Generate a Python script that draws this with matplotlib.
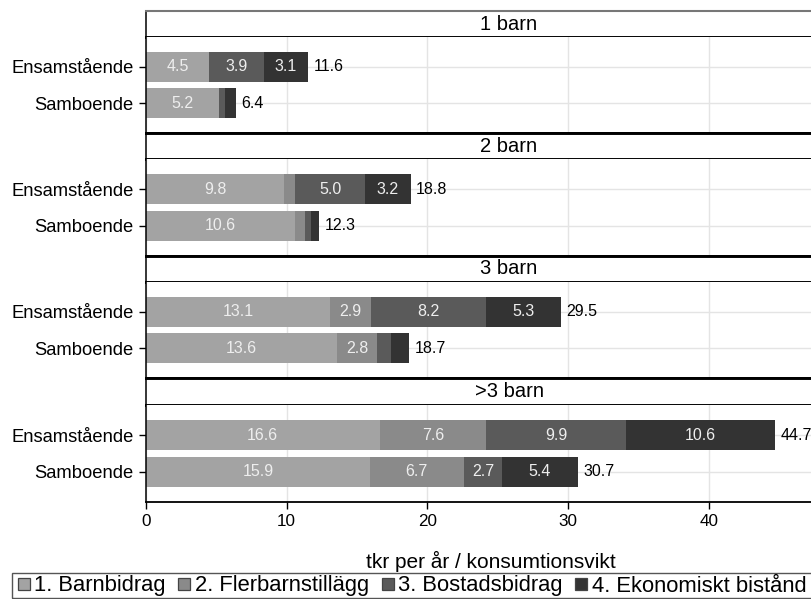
import matplotlib
matplotlib.use("Agg")
import matplotlib.pyplot as plt
from matplotlib.lines import Line2D
from matplotlib.patches import Rectangle

plt.rcParams['font.family'] = ['Liberation Sans', 'DejaVu Sans']

# data (tkr per år / konsumtionsvikt)
panels = ['1 barn', '2 barn', '3 barn', '>3 barn']
groups = ['Ensamstående', 'Samboende']
components = ['1. Barnbidrag', '2. Flerbarnstillägg', '3. Bostadsbidrag', '4. Ekonomiskt bistånd']

barnbidrag_ens = [4.5, 9.8, 13.1, 16.6]
barnbidrag_sam = [5.2, 10.6, 13.6, 15.9]
flerbarn_ens = [0.0, 0.8, 2.9, 7.6]
flerbarn_sam = [0.0, 0.7, 2.8, 6.7]
bostad_ens = [3.9, 5.0, 8.2, 9.9]
bostad_sam = [0.4, 0.4, 1.0, 2.7]
ekbist_ens = [3.1, 3.2, 5.3, 10.6]
ekbist_sam = [0.8, 0.6, 1.3, 5.4]
totals_ens = [11.6, 18.8, 29.5, 44.7]
totals_sam = [6.4, 12.3, 18.7, 30.7]

colors = ['#a3a3a3', '#8a8a8a', '#5a5a5a', '#333333']

W, H = 811, 599
fig = plt.figure(figsize=(W / 100, H / 100), dpi=100)

def box(x0, y0, x1, y1):
    # pixel box (top-left origin) -> figure fraction rect
    return [x0 / W, 1 - y1 / H, (x1 - x0) / W, (y1 - y0) / H]

heads = [(11, 37), (133, 159), (256, 282), (378, 405)]
bodies = [(37, 133), (159, 256), (282, 378), (405, 502)]
x_left, x_right = 146, 811
xmax = (x_right - x_left) / 14.07
thick = 2.1

for i, name in enumerate(panels):
    # header strip
    hax = fig.add_axes(box(x_left, heads[i][0], x_right, heads[i][1]))
    hax.set_xticks([])
    hax.set_yticks([])
    hax.spines['right'].set_visible(False)
    hax.spines['left'].set_linewidth(1.1)
    hax.spines['bottom'].set_linewidth(thick)
    if i == 0:
        hax.spines['top'].set_linewidth(1.5)
        hax.spines['top'].set_color('#777777')
    else:
        hax.spines['top'].set_linewidth(thick)
    hax.text((509 - x_left) / (x_right - x_left), 0.5, name, transform=hax.transAxes,
             ha='center', va='center', fontsize=14.5)

    # bar body
    ax = fig.add_axes(box(x_left, bodies[i][0], x_right, bodies[i][1]))
    segs_ens = [barnbidrag_ens[i], flerbarn_ens[i], bostad_ens[i], ekbist_ens[i]]
    segs_sam = [barnbidrag_sam[i], flerbarn_sam[i], bostad_sam[i], ekbist_sam[i]]
    for y, segs, tot in [(1, segs_ens, totals_ens[i]), (0, segs_sam, totals_sam[i])]:
        left = 0
        for k, v in enumerate(segs):
            ax.barh(y, v, left=left, height=0.83, color=colors[k], zorder=2)
            if v >= 2:
                ax.text(left + v / 2, y, f'{v:.1f}', ha='center', va='center',
                        color='#eeeeee', fontsize=11.5, zorder=3)
            left += v
        ax.text(left + 0.4, y, f'{tot:.1f}', ha='left', va='center',
                fontsize=11.5, zorder=3)
    ax.set_xlim(0, xmax)
    ax.set_ylim(-0.83, 1.83)
    ax.set_yticks([1, 0])
    ax.set_yticklabels(groups, fontsize=13.2)
    ax.set_xticks([0, 10, 20, 30, 40])
    ax.grid(True, color='#e4e4e4', linewidth=1.0, zorder=0)
    ax.set_axisbelow(True)
    ax.spines['right'].set_visible(False)
    ax.spines['top'].set_visible(False)
    ax.spines['left'].set_linewidth(1.1)
    ax.tick_params(axis='y', length=5, width=1, pad=4)
    if i < 3:
        ax.spines['bottom'].set_linewidth(thick)
        ax.tick_params(axis='x', length=0, labelbottom=False)
    else:
        ax.spines['bottom'].set_linewidth(1.3)
        ax.tick_params(axis='x', length=5, width=1, labelsize=12.3, pad=4)
        ax.set_xlabel('tkr per år / konsumtionsvikt', fontsize=15)
        ax.xaxis.set_label_coords((491 - x_left) / (x_right - x_left), -0.5)

# legend
fig.patches.append(Rectangle((12 / W, 1 - 598 / H), 820 / W, 25 / H,
                             transform=fig.transFigure, fill=False,
                             edgecolor='#555555', linewidth=1.0))
handles = [Line2D([], [], linestyle='none', marker='s', markersize=9,
                  markerfacecolor=c, markeredgecolor='#444444', markeredgewidth=0.9)
           for c in colors]
fig.legend(handles, components, loc='center left', bbox_to_anchor=(17 / W, 1 - 586 / H),
           ncol=4, frameon=False, fontsize=15.8, handlelength=0.6, handletextpad=0.18,
           columnspacing=0.55, borderpad=0, borderaxespad=0)

fig.savefig('out.png', dpi=100)
